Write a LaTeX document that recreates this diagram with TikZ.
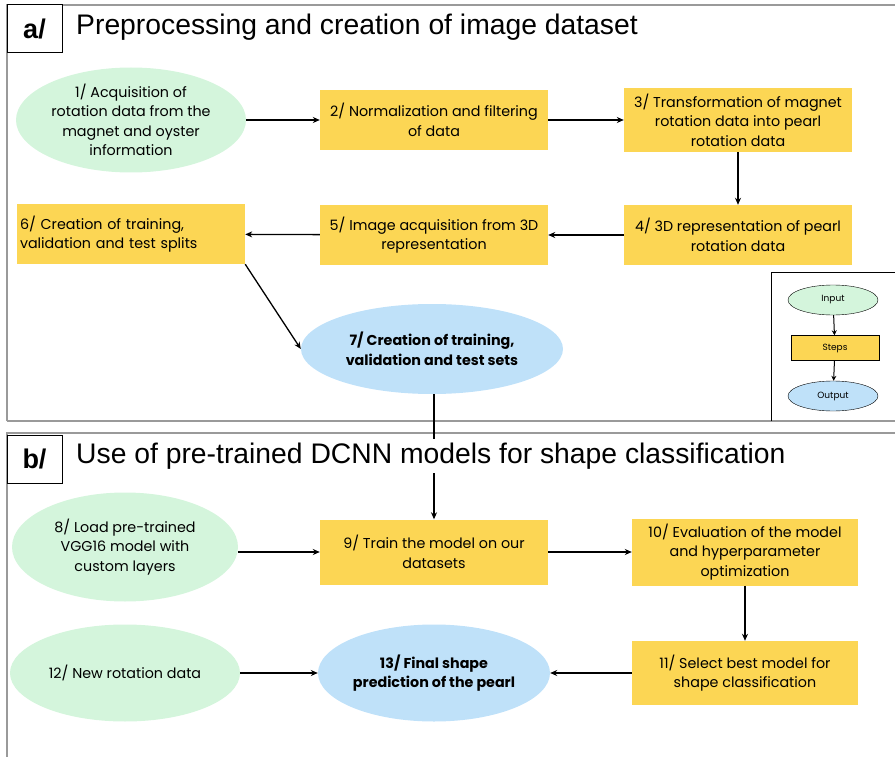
\documentclass[tikz,border=0pt]{standalone}
\usepackage{fontspec}
\setmainfont{Liberation Sans}
\newfontfamily\popfont{Poppins}
\usetikzlibrary{arrows.meta,positioning,shapes.geometric}
\definecolor{mint}{HTML}{D4F5DC}
\definecolor{sun}{HTML}{FCD654}
\definecolor{sky}{HTML}{BFE1F9}
\definecolor{framegray}{HTML}{9A9A9A}

\begin{document}
\begin{tikzpicture}[x=1pt, y=-1pt, every node/.style={font=\popfont\fontsize{14.3}{19.5}\selectfont}, stepbox/.style={rectangle,align=center,minimum height=60pt,minimum width=228pt,fill=sun,inner sep=3pt}, inbox/.style={ellipse,align=center,minimum height=105pt,minimum width=230pt,fill=mint,inner sep=0pt}, outbox/.style={ellipse,align=center,minimum height=90pt,minimum width=232pt,fill=sky,inner sep=0pt,font=\popfont\bfseries\fontsize{14.3}{19.5}\selectfont}, panel/.style={draw=framegray,line width=1.2pt}, tag/.style={draw,line width=1pt,fill=white,minimum width=55pt,minimum height=48pt,inner sep=0pt,font=\bfseries\fontsize{27}{30}\selectfont}, title/.style={anchor=west,fill=white,inner sep=4pt,font=\fontsize{28.3}{32}\selectfont}, arrow/.style={-{Stealth[length=7pt,width=6pt]},line width=1.3pt}, keyarrow/.style={-{Stealth[length=5pt,width=5pt]},line width=1pt}]
\useasboundingbox (0,0) rectangle (895,757);
% panels
\draw[panel] (7,421) -- (7,5) -- (900,5);
\draw[panel] (7,421) -- (900,421);
\draw[panel] (7,770) -- (7,433) -- (900,433);
\draw[line width=1pt] (771,421) -- (771,272) -- (900,272);
\node[tag] (taga) at (34.5,29) {a/};
\node[tag] (tagb) at (34.5,459) {b/};
% part a
\node[inbox] (acq) at (131,120) {1/ Acquisition of\\rotation data from the\\magnet and oyster\\information};
\node[stepbox] (norm) at (434,120) {2/ Normalization and filtering\\of data};
\node[stepbox,minimum height=64pt] (trans) at (738,120) {3/ Transformation of magnet\\rotation data into pearl\\rotation data};
\node[stepbox] (repr) at (738,235) {4/ 3D representation of pearl\\rotation data};
\node[stepbox] (imgacq) at (434,235) {5/ Image acquisition from 3D\\representation};
\node[stepbox,align=left,text width=222pt] (splits) at (131,234) {6/ Creation of training,\\validation and test splits};
\node[outbox,minimum width=262pt,minimum height=90pt] (sets) at (432,349) {7/ Creation of training,\\validation and test sets};
% legend
\node[ellipse,draw,fill=mint,minimum width=90pt,minimum height=30pt,inner sep=0pt,font=\popfont\fontsize{9}{10}\selectfont] (kin) at (833,300) {Input};
\node[draw,fill=sun,minimum width=88pt,minimum height=25pt,inner sep=0pt,font=\popfont\fontsize{9}{10}\selectfont] (kstep) at (835,348) {Steps};
\node[ellipse,draw,fill=sky,minimum width=90pt,minimum height=30pt,inner sep=0pt,font=\popfont\fontsize{9}{10}\selectfont] (kout) at (833,396) {Output};
% part b
\node[inbox,minimum width=226pt,minimum height=109pt] (vgg) at (125,547) {8/ Load pre-trained\\VGG16 model with\\custom layers};
\node[stepbox,minimum height=65pt] (train) at (434,552) {9/ Train the model on our\\datasets};
\node[stepbox,minimum width=226pt,minimum height=67pt] (eval) at (745,552) {10/ Evaluation of the model\\and hyperparameter\\optimization};
\node[stepbox,minimum width=226pt,minimum height=64pt] (select) at (745,673) {11/ Select best model for\\shape classification};
\node[inbox,minimum height=97pt] (newrot) at (125,673) {12/ New rotation data};
\node[outbox,minimum height=97pt] (final) at (434,673) {13/ Final shape\\prediction of the pearl};
% connectors
\draw[arrow] (acq) -- (norm);
\draw[arrow] (norm) -- (trans);
\draw[arrow] (trans) -- (repr);
\draw[arrow] (repr) -- (imgacq);
\draw[arrow] (imgacq) -- (splits);
\draw[arrow] (splits.south east) -- (sets.west);
\draw[arrow] (sets.south -| train.north) -- (train.north);
\draw[arrow] (vgg.east |- train.west) -- (train.west);
\draw[arrow] (train) -- (eval);
\draw[arrow] (eval) -- (select);
\draw[arrow] (select) -- (final);
\draw[arrow] (newrot) -- (final);
\draw[keyarrow] (kin) -- (kstep);
\draw[keyarrow] (kstep) -- (kout);
% titles
\node[title] (titlea) at (72,27) {Preprocessing and creation of image dataset};
\node[title] (titleb) at (72,456) {Use of pre-trained DCNN models for shape classification};
\end{tikzpicture}
\end{document}
